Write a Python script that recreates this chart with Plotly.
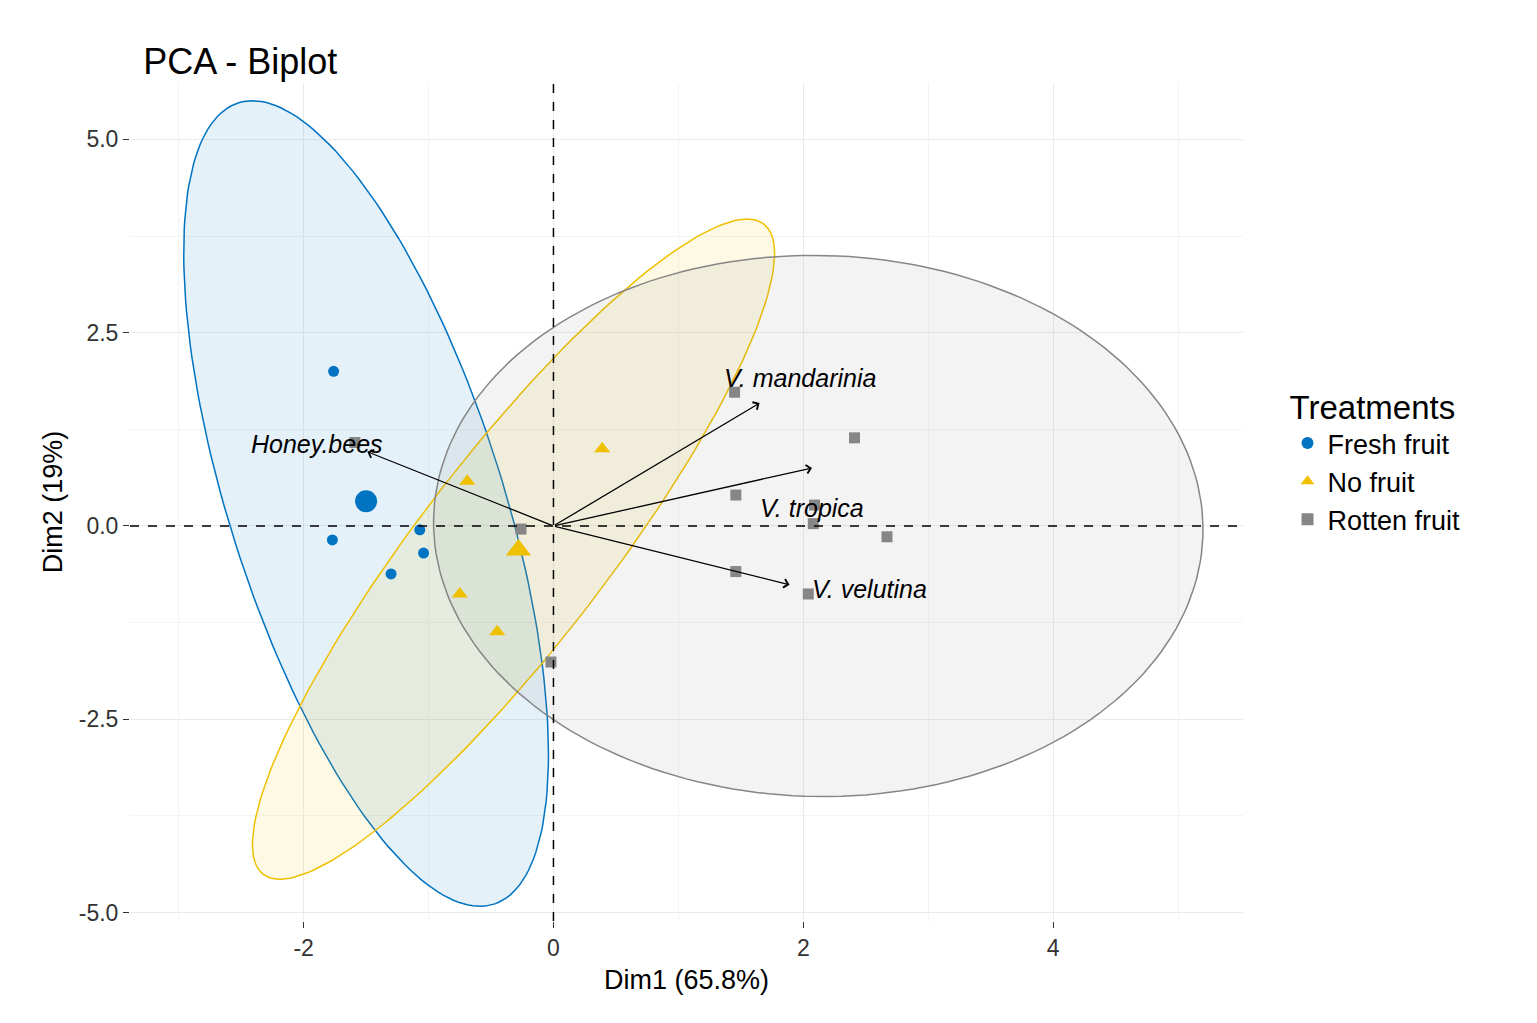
import numpy as np
import plotly.graph_objects as go

# individuals per group (Dim1, Dim2)
fresh_x = [-1.76, -1.77, -1.07, -1.04, -1.30]
fresh_y = [2.00, -0.18, -0.05, -0.35, -0.62]
nofruit_x = [0.39, -0.69, -0.75, -0.45]
nofruit_y = [1.00, 0.58, -0.88, -1.37]
rotten_x = [1.45, 2.41, 1.46, 2.09, 2.08, 2.67, 1.46, 2.04, -0.26, -0.02, -1.59]
rotten_y = [1.73, 1.14, 0.40, 0.27, 0.03, -0.14, -0.59, -0.88, -0.04, -1.76, 1.08]

# group means
mean_x = [-1.50, -0.28]
mean_y = [0.32, -0.31]

# variable arrows
var_names = ["Honey.bees", "V. mandarinia", "V. tropica", "V. velutina"]
var_x = [-1.49, 1.65, 2.07, 1.89]
var_y = [0.96, 1.59, 0.75, -0.76]
lab_x = [-1.89, 1.97, 2.07, 2.53]
lab_y = [1.06, 1.91, 0.23, -0.81]

# confidence ellipses: centre x, centre y, x half-width, y half-height, x offset at top
ell_cx = [-1.50, -0.32, 2.12]
ell_cy = [0.29, -0.30, 0.00]
ell_w = [1.46, 2.09, 3.08]
ell_h = [5.21, 4.27, 3.50]
ell_a = [-0.91, 1.87, -0.04]

names = ["Fresh fruit", "No fruit", "Rotten fruit"]
colors = ["#0073C2", "#EFC000", "#868686"]
fills = ["rgba(0,115,194,0.1)", "rgba(239,192,0,0.1)", "rgba(134,134,134,0.1)"]
symbols = ["circle", "triangle-up", "square"]
sizes = [11, 14, 11]

fig = go.Figure()
t = np.linspace(0, 2 * np.pi, 200)
for i in range(3):
    b = np.sqrt(ell_w[i] ** 2 - ell_a[i] ** 2)
    ex = ell_cx[i] + ell_a[i] * np.cos(t) + b * np.sin(t)
    ey = ell_cy[i] + ell_h[i] * np.cos(t)
    fig.add_trace(go.Scatter(x=ex, y=ey, mode="lines", fill="toself", fillcolor=fills[i],
                             line=dict(color=colors[i], width=1.5), showlegend=False, hoverinfo="skip"))

pts = [(fresh_x, fresh_y), (nofruit_x, nofruit_y), (rotten_x, rotten_y)]
for i, (px, py) in enumerate(pts):
    fig.add_trace(go.Scatter(x=px, y=py, mode="markers", name=names[i],
                             marker=dict(color=colors[i], symbol=symbols[i], size=sizes[i])))
for i in range(2):
    fig.add_trace(go.Scatter(x=[mean_x[i]], y=[mean_y[i]], mode="markers", showlegend=False,
                             marker=dict(color=colors[i], symbol=symbols[i], size=22)))

for i, n in enumerate(var_names):
    fig.add_annotation(x=var_x[i], y=var_y[i], ax=0, ay=0, xref="x", yref="y", axref="x", ayref="y",
                       showarrow=True, arrowhead=4, arrowsize=1.3, arrowwidth=1.3, arrowcolor="black", text="")
    fig.add_annotation(x=lab_x[i], y=lab_y[i], text="<i>" + n + "</i>", showarrow=False,
                       font=dict(size=25, color="black"))

fig.add_hline(y=0, line=dict(color="black", width=1.5, dash="dash"))
fig.add_vline(x=0, line=dict(color="black", width=1.5, dash="dash"))

ax_common = dict(showline=False, zeroline=False, ticks="outside", ticklen=6, tickcolor="#333",
                 gridcolor="#ebebeb", tickfont=dict(size=23, color="#333"),
                 minor=dict(showgrid=True, gridcolor="#f4f4f4"))
fig.update_xaxes(range=[-3.39, 5.52], tickvals=[-2, 0, 2, 4], ticktext=["-2", "0", "2", "4"], minor_dtick=1,
                 title=dict(text="Dim1 (65.8%)", font=dict(size=27, color="black"), standoff=10), **ax_common)
fig.update_yaxes(range=[-5.11, 5.73], tickvals=[-5, -2.5, 0, 2.5, 5],
                 ticktext=["-5.0", "-2.5", "0.0", "2.5", "5.0"], minor_dtick=1.25,
                 title=dict(text="Dim2 (19%)", font=dict(size=27, color="black"), standoff=8), **ax_common)

fig.update_layout(
    width=1537, height=1023,
    plot_bgcolor="white", paper_bgcolor="white",
    font=dict(family="Liberation Sans, Arial", color="black"),
    title=dict(text="PCA - Biplot", x=0.088, y=0.96, font=dict(size=36, color="black")),
    margin=dict(l=122, r=302, t=75, b=110),
    legend=dict(title=dict(text="Treatments", font=dict(size=33)), font=dict(size=27),
                x=1.04, y=0.55, yanchor="middle", itemsizing="constant", tracegroupgap=20),
)

fig.write_html("out.html")
